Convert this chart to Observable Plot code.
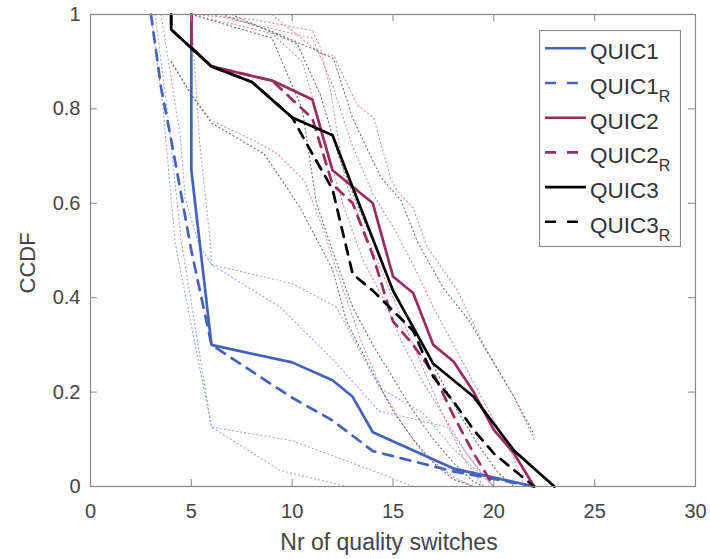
<!DOCTYPE html>
<html><head><meta charset="utf-8">
<script src="https://cdn.jsdelivr.net/npm/d3@7"></script>
<script src="https://cdn.jsdelivr.net/npm/@observablehq/plot@0.6"></script>
<style>
body{margin:0;background:#fff;}
#wrap{position:relative;width:710px;height:559px;font-family:"Liberation Sans",Arial,Helvetica,sans-serif;}
#legend{position:absolute;left:539px;top:30px;}
</style></head><body><div id="wrap"></div>
<script>
// ---- axes ----
const xTicks = [0, 5, 10, 15, 20, 25, 30];
const yTicks = [0, 0.2, 0.4, 0.6, 0.8, 1];

// ---- main series (x = Nr of quality switches, y = CCDF) ----
const quic1X  = [5, 5, 6, 10, 12, 13, 14, 18, 22];
const quic1Y  = [1, 0.67, 0.30, 0.263, 0.225, 0.19, 0.115, 0.038, 0];
const quic1RX = [3, 3.5, 4, 5, 6, 10, 12, 14, 18, 22];
const quic1RY = [1, 0.845, 0.735, 0.50, 0.30, 0.188, 0.14, 0.075, 0.032, 0];
const quic2X  = [5, 5, 6, 9, 11, 12, 14, 15, 16, 17, 18, 19, 20, 21, 22];
const quic2Y  = [1, 0.93, 0.89, 0.86, 0.82, 0.67, 0.60, 0.445, 0.41, 0.30, 0.265, 0.20, 0.12, 0.07, 0];
const quic2RX = [5, 5, 6, 9, 11, 12, 13, 14, 15, 16, 17, 18, 19, 20];
const quic2RY = [1, 0.93, 0.89, 0.86, 0.78, 0.64, 0.60, 0.49, 0.35, 0.30, 0.24, 0.15, 0.07, 0];
const quic3X  = [4, 4, 6, 8, 10, 12, 13, 15, 17, 19, 21, 23];
const quic3Y  = [1, 0.968, 0.89, 0.857, 0.782, 0.744, 0.634, 0.415, 0.26, 0.19, 0.076, 0];
const quic3RX = [4, 4, 6, 8, 10, 11, 12, 13, 14, 16, 17, 18, 19, 20, 21, 22];
const quic3RY = [1, 0.968, 0.89, 0.857, 0.782, 0.705, 0.63, 0.45, 0.415, 0.33, 0.232, 0.18, 0.12, 0.07, 0.035, 0];

// ---- individual runs (dotted) ----
const runB1X = [3, 3.6, 4.2, 6, 10, 14.4, 16];
const runB1Y = [1, 0.8, 0.515, 0.126, 0.097, 0.027, 0];
const runB2X = [3.2, 3.8, 4.5, 6, 9.4, 12.7];
const runB2Y = [1, 0.8, 0.52, 0.126, 0.034, 0];
const runB3X = [3.5, 4.46, 4.7, 5.36, 6, 10, 12.2, 14.3, 16.5, 18, 20];
const runB3Y = [1, 0.74, 0.61, 0.515, 0.47, 0.43, 0.38, 0.21, 0.155, 0.08, 0];
const runB4X = [5, 5.4, 5.95, 6, 9.4, 12, 14.3, 17.7, 19, 20];
const runB4Y = [1, 0.733, 0.515, 0.47, 0.38, 0.27, 0.16, 0.126, 0.05, 0];

const runP1X = [5, 8, 11, 11.4, 11.9, 12.6, 13.5, 14.5, 15.5, 16.5, 17.5, 18.5, 19.5];
const runP1Y = [1, 0.99, 0.966, 0.93, 0.84, 0.65, 0.55, 0.45, 0.35, 0.25, 0.15, 0.06, 0];
const runP2X = [9, 11.4, 12.06, 13.2, 14.05, 14.9, 15.2, 16, 16.7, 18.2, 19.5, 21, 22];
const runP2Y = [1, 0.917, 0.913, 0.81, 0.78, 0.65, 0.627, 0.59, 0.507, 0.415, 0.30, 0.19, 0.10];
const runP3X = [4, 5, 6, 8.1, 9.26, 10.6, 11.5, 12.5, 13.5, 14.5, 15.5, 16.5, 18, 19];
const runP3Y = [0.9, 0.83, 0.775, 0.733, 0.705, 0.648, 0.55, 0.42, 0.30, 0.20, 0.13, 0.07, 0.02, 0];
const runP4X = [5, 9, 10.5, 11.5, 12.5, 13.5, 14.5, 15.5, 16.5, 17.5, 18.5, 19.5, 20];
const runP4Y = [1, 0.96, 0.90, 0.75, 0.60, 0.48, 0.40, 0.30, 0.22, 0.15, 0.08, 0.02, 0];
const runP5X = [6, 11, 12, 13, 14, 15, 16, 17, 18, 19, 20, 21, 21.5];
const runP5Y = [1, 0.95, 0.85, 0.72, 0.62, 0.55, 0.47, 0.38, 0.30, 0.22, 0.14, 0.06, 0];

const runK1X = [6.5, 8.9, 11.2, 12.06, 13, 14.4, 15.4, 16.2, 17.5, 18.8, 19.6, 21, 22];
const runK1Y = [1, 0.966, 0.924, 0.906, 0.78, 0.655, 0.606, 0.52, 0.42, 0.35, 0.29, 0.19, 0.11];
const runK2X = [4, 5, 6, 8.6, 9.4, 10.4, 12, 12.7, 14, 15, 16, 17, 18, 19];
const runK2Y = [0.9, 0.83, 0.77, 0.705, 0.655, 0.59, 0.46, 0.35, 0.24, 0.16, 0.10, 0.05, 0.015, 0];
const runK3X = [7, 10.25, 11.4, 12.3, 13.2, 14.2, 15.2, 16.2, 17.2, 18.2, 19.2, 20.2, 21];
const runK3Y = [1, 0.938, 0.83, 0.70, 0.60, 0.50, 0.40, 0.32, 0.24, 0.16, 0.09, 0.03, 0];
const runK4X = [5, 9, 10.5, 11.2, 12, 13, 14, 15, 16, 17, 18, 19, 19.5];
const runK4Y = [1, 0.95, 0.80, 0.60, 0.50, 0.38, 0.30, 0.23, 0.16, 0.10, 0.05, 0.01, 0];

// ---- series styling / legend ----
const seriesNames = ["QUIC1", "QUIC1", "QUIC2", "QUIC2", "QUIC3", "QUIC3"];
const seriesSubs  = ["", "R", "", "R", "", "R"];
const seriesColors = ["#4262bd", "#4262bd", "#9c2b61", "#9c2b61", "#000000", "#000000"];
const seriesDashed = [false, true, false, true, false, true];
const seriesX = [quic1X, quic1RX, quic2X, quic2RX, quic3X, quic3RX];
const seriesY = [quic1Y, quic1RY, quic2Y, quic2RY, quic3Y, quic3RY];

const runGroups = [
  {color: "#95a3e2", xs: [runB1X, runB2X, runB3X, runB4X], ys: [runB1Y, runB2Y, runB3Y, runB4Y]},
  {color: "#cf86a6", xs: [runP1X, runP2X, runP3X, runP4X, runP5X], ys: [runP1Y, runP2Y, runP3Y, runP4Y, runP5Y]},
  {color: "#6a6a6a", xs: [runK1X, runK2X, runK3X, runK4X], ys: [runK1Y, runK2Y, runK3Y, runK4Y]}
];

const toRows = (xs, ys) => xs.map((x, i) => ({x, y: ys[i]}));

const runMarks = [];
runGroups.forEach(g => {
  g.xs.forEach((xs, k) => {
    runMarks.push(Plot.line(toRows(xs, g.ys[k]), {
      x: "x", y: "y", stroke: g.color, strokeWidth: 1.1,
      strokeDasharray: "1.1,3", strokeLinecap: "round"
    }));
  });
});

const mainMarks = seriesX.map((xs, i) => Plot.line(toRows(xs, seriesY[i]), {
  x: "x", y: "y", stroke: seriesColors[i], strokeWidth: 2.7,
  strokeDasharray: seriesDashed[i] ? "10,8" : null, strokeLinejoin: "round"
}));
// draw order: blue, crimson over blue, black on top
const ordered = [mainMarks[1], mainMarks[0], mainMarks[3], mainMarks[2], mainMarks[5], mainMarks[4]];

const axisColor = "#888";
const textColor = "#444";

const chart = Plot.plot({
  width: 710, height: 559,
  marginLeft: 90, marginRight: 15, marginTop: 14, marginBottom: 73,
  x: {domain: [0, 30]},
  y: {domain: [0, 1]},
  style: {fontFamily: '"Liberation Sans", Arial, Helvetica, sans-serif', fontSize: "20px", color: textColor, background: "#fff"},
  marks: [
    ...runMarks,
    ...ordered,
    Plot.frame({stroke: axisColor, strokeWidth: 1.2}),
    Plot.tickX(xTicks, {x: d => d, insetTop: 465, stroke: axisColor}),
    Plot.tickX(xTicks, {x: d => d, insetBottom: 465, stroke: axisColor}),
    Plot.tickY(yTicks, {y: d => d, insetRight: 598, stroke: axisColor}),
    Plot.tickY(yTicks, {y: d => d, insetLeft: 598, stroke: axisColor}),
    Plot.axisX({ticks: xTicks, tickSize: 0, tickPadding: 17, label: null, tickFormat: d => String(d), fill: textColor}),
    Plot.axisY({ticks: yTicks, tickSize: 0, tickPadding: 10, label: null, tickFormat: d => String(d), fill: textColor}),
    Plot.text(["Nr of quality switches"], {text: d => d, frameAnchor: "bottom", dx: -4, dy: 63, fontSize: 23, fill: textColor}),
    Plot.text(["CCDF"], {text: d => d, frameAnchor: "left", rotate: -90, dx: -63, dy: 43, fontSize: 22, fill: textColor})
  ]
});

const wrap = document.getElementById("wrap");
wrap.appendChild(chart);

// ---- legend (inside the axes, top-right) ----
const ns = "http://www.w3.org/2000/svg";
const lg = document.createElementNS(ns, "svg");
lg.setAttribute("id", "legend");
lg.setAttribute("width", 142);
lg.setAttribute("height", 218);
const box = document.createElementNS(ns, "rect");
box.setAttribute("x", 0.5); box.setAttribute("y", 0.5);
box.setAttribute("width", 141); box.setAttribute("height", 216);
box.setAttribute("fill", "#fff"); box.setAttribute("stroke", "#8a8a8a"); box.setAttribute("stroke-width", 1.2);
lg.appendChild(box);
seriesNames.forEach((name, i) => {
  const yy = 18.3 + i * 34.7;
  const ln = document.createElementNS(ns, "line");
  ln.setAttribute("x1", 6); ln.setAttribute("x2", seriesDashed[i] ? 41 : 47);
  ln.setAttribute("y1", yy); ln.setAttribute("y2", yy);
  ln.setAttribute("stroke", seriesColors[i]); ln.setAttribute("stroke-width", 2.6);
  if (seriesDashed[i]) ln.setAttribute("stroke-dasharray", "11,11");
  lg.appendChild(ln);
  const t = document.createElementNS(ns, "text");
  t.setAttribute("x", 51); t.setAttribute("y", yy + 11);
  t.setAttribute("font-size", 22.5);
  t.setAttribute("fill", "#333");
  t.setAttribute("font-family", '"Liberation Sans", Arial, Helvetica, sans-serif');
  t.textContent = name;
  if (seriesSubs[i]) {
    const s = document.createElementNS(ns, "tspan");
    s.setAttribute("font-size", 16);
    s.setAttribute("dy", 8);
    s.textContent = seriesSubs[i];
    t.appendChild(s);
  }
  lg.appendChild(t);
});
wrap.appendChild(lg);
</script>
</body></html>
